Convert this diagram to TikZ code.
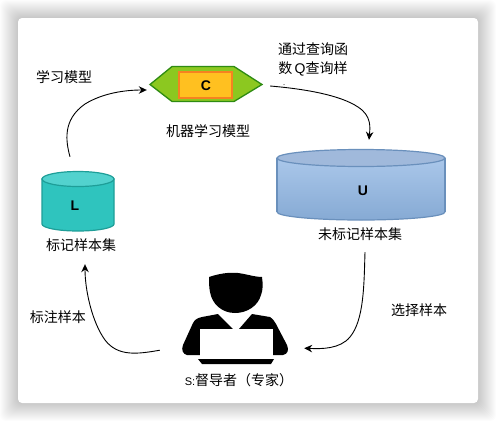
\documentclass[tikz,border=0pt]{standalone}
\usepackage{fontspec}
\setmainfont{Noto Sans CJK SC}
\newfontfamily\latinf{Liberation Sans}
\usetikzlibrary{arrows.meta}
\definecolor{hexfill}{HTML}{8CC820}
\definecolor{hexline}{HTML}{2E8B12}
\definecolor{recfill}{HTML}{FFC020}
\definecolor{recline}{HTML}{F58220}
\definecolor{lfill}{HTML}{2FC4BE}
\definecolor{ltop}{HTML}{52D2CE}
\definecolor{lline}{HTML}{1E9E98}
\definecolor{utopc}{HTML}{AAC7EA}
\definecolor{ubot}{HTML}{86AAD4}
\definecolor{uell}{HTML}{A0B9DB}
\definecolor{uline}{HTML}{6A90BC}
\tikzset{
  lbl/.style={inner sep=0pt,font=\fontsize{14}{16}\selectfont,text=black},
  letter/.style={inner sep=0pt,font=\latinf\bfseries\fontsize{14}{16}\selectfont,text=black},
  holder/.style={inner sep=0pt,draw=none},
  conn/.style={draw=black,line width=0.9pt,-{Stealth[length=8pt,width=7.5pt]}},
}
\begin{document}
\begin{tikzpicture}[x=1pt,y=-1pt]
\useasboundingbox (0,0) rectangle (496,421);
\fill[white] (0,0) rectangle (496,421);
% card shadow
\foreach \i in {18,17,...,1}{
  \fill[black,opacity=0.012,rounded corners=6pt] (18-\i,18-\i) rectangle (478+\i,403+\i);
}
\fill[white,rounded corners=4pt] (18,18) rectangle (478,403);
% hexagon C
\filldraw[fill=hexfill,draw=hexline,line width=1.3pt] (150,84.5) -- (172,66.5) -- (234,66.5) -- (262,84.5) -- (234,101.5) -- (172,101.5) -- cycle;
\filldraw[fill=recfill,draw=recline,line width=1.8pt] (179,72) rectangle (232,98);
\node[letter,minimum width=112pt,minimum height=35pt] (C) at (206,85.5) {C};
% cylinder L
\filldraw[fill=lfill,draw=lline,line width=1.2pt] (42,179) -- (42,224) arc[start angle=180,end angle=0,x radius=36,y radius=7] -- (114,179) -- cycle;
\filldraw[fill=ltop,draw=lline,line width=1.2pt] (78,179) ellipse[x radius=36,y radius=7.5];
\node[holder,minimum width=72pt,minimum height=60pt] (L) at (78,201) {};
\node[letter] (Ltext) at (75,206) {L};
% cylinder U
\shade[top color=utopc,bottom color=ubot] (277,158) -- (277,212) arc[start angle=180,end angle=0,x radius=84,y radius=8] -- (445,158) -- cycle;
\draw[uline,line width=1.2pt] (277,158) -- (277,212);
\draw[uline,line width=1.2pt] (445,158) -- (445,212);
\draw[uline,line width=1.2pt] (277,212) arc[start angle=180,end angle=0,x radius=84,y radius=8];
\filldraw[fill=uell,draw=uline,line width=1.2pt] (361,158) ellipse[x radius=84,y radius=8.5];
\node[holder,minimum width=168pt,minimum height=70pt] (U) at (361,185) {};
\node[letter] (Utext) at (363,191) {U};
% person
\fill[black] (209,277) .. controls (218,274) and (228,272) .. (238,273) .. controls (246,274) and (255,277) .. (262,277)
  .. controls (263,284) and (263,290) .. (261,295) .. controls (258,306) and (247,313) .. (235,313)
  .. controls (222,313) and (212,304) .. (210,292) .. controls (209,287) and (209,282) .. (209,277) -- cycle;
\fill[black] (218,314) -- (233,329) -- (239,329) -- (252,314) -- (270,317) .. controls (273,319) and (275,322) .. (276,324)
  -- (287,345) .. controls (289,350) and (288,354) .. (283,355) -- (187,355) .. controls (183,354) and (181,350) .. (183,345)
  -- (193,323) .. controls (195,319) and (198,318) .. (202,317) -- cycle;
\fill[white] (199.5,329) rectangle (273,356);
\fill[black] (198,359) -- (274,359) -- (271,364) -- (202,364) -- cycle;
\node[holder,minimum width=106pt,minimum height=92pt] (S) at (235,319) {};
% labels
\node[lbl] (t1) at (313,49) {通过查询函};
\node[lbl] (t2) at (313,69) {数\,{\latinf Q}查询样};
\fill[black] (284,84.5) circle[radius=0.5];
\node[lbl] (t3) at (64,77) {学习模型};
\node[lbl] (t4) at (208,131) {机器学习模型};
\node[lbl] (t5) at (81,245) {标记样本集};
\node[lbl] (t6) at (360,234) {未标记样本集};
\node[lbl] (t7) at (419,310) {选择样本};
\node[lbl] (t8) at (58,317) {标注样本};
\node[lbl] (t9) at (239,380) {{\latinf\fontsize{11}{14}\selectfont S:}督导者（专家）};
% connectors
\draw[conn] ([xshift=-8pt,yshift=14pt]L.north) .. controls (66,142) and (62,120) .. (85,104) .. controls (103,93) and (125,90) .. ([xshift=-3pt,yshift=-4.5pt]C.west);
\draw[conn] ([xshift=8pt,yshift=-0.5pt]C.east) .. controls (305,89) and (340,95) .. (358,107) .. controls (372,116) and (370,128) .. ([xshift=8pt,yshift=10pt]U.north);
\draw[conn] ([xshift=4pt,yshift=-32pt]U.south) .. controls (364,285) and (364,320) .. (350,337) .. controls (340,349) and (322,349) .. ([xshift=16pt,yshift=17pt]S.south east);
\draw[conn] ([yshift=15pt,xshift=-22pt]S.south west) .. controls (138,354) and (118,357) .. (105,340) .. controls (92,322) and (85,290) .. ([xshift=7pt,yshift=-33pt]L.south);
\end{tikzpicture}
\end{document}
